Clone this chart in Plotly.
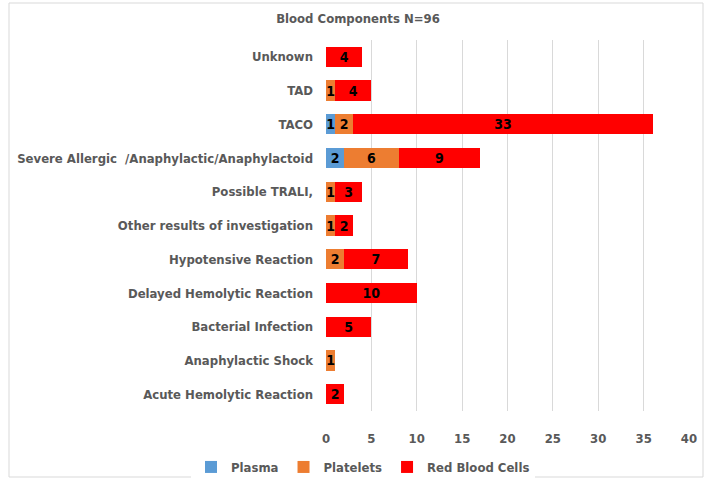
import plotly.graph_objects as go

categories = ["Acute Hemolytic Reaction", "Anaphylactic Shock", "Bacterial Infection",
              "Delayed Hemolytic Reaction", "Hypotensive Reaction",
              "Other results of investigation", "Possible TRALI,",
              "Severe Allergic  /Anaphylactic/Anaphylactoid", "TACO", "TAD", "Unknown"]
plasma = [None, None, None, None, None, None, None, 2, 1, None, None]
platelets = [None, 1, None, None, 2, 1, 1, 6, 2, 1, None]
rbc = [2, None, 5, 10, 7, 2, 3, 9, 33, 4, 4]
x_ticks = [0, 5, 10, 15, 20, 25, 30, 35, 40]

FONT = "DejaVu Sans Condensed, Roboto, sans-serif"
series = [("Plasma", plasma, "#5B9BD5"), ("Platelets", platelets, "#ED7D31"),
          ("Red Blood Cells", rbc, "#FF0000")]

fig = go.Figure()
for name, vals, col in series:
    fig.add_trace(go.Bar(
        y=categories, x=vals, name=name, orientation="h",
        marker=dict(color=col, line=dict(width=0)),
        text=[str(v) if v else "" for v in vals],
        textposition="inside", insidetextanchor="middle", constraintext="none",
        textangle=0,
        textfont=dict(family=FONT, size=14, color="black", weight="bold"),
        hoverinfo="x+y+name",
    ))

L, R, T, B = 326, 18, 40, 68
W, H = 707, 479
pw, ph = W - L - R, H - T - B

def px(x):
    return (x - L) / pw

def py(y):
    return (H - B - y) / ph

fig.update_layout(
    barmode="stack", bargap=0.4,
    width=W, height=H,
    margin=dict(l=L, r=R, t=T, b=B, autoexpand=False),
    paper_bgcolor="white", plot_bgcolor="white",
    font=dict(family=FONT, color="#595959", size=13),
    title=dict(text="<b>Blood Components N=96</b>", x=358 / W, xanchor="center",
               xref="container", y=1 - 18 / H, yanchor="middle",
               font=dict(size=13, color="#595959", family=FONT)),
    xaxis=dict(range=[0, 40], tickvals=x_ticks, showgrid=True, gridcolor="#D9D9D9",
               gridwidth=1, zeroline=False, showline=False, ticks="", automargin=False,
               tickfont=dict(size=13, color="#595959", weight="bold"), ticklabelstandoff=18),
    yaxis=dict(categoryorder="array", categoryarray=categories, showgrid=False,
               showline=False, ticks="", ticklabelstandoff=12, automargin=False,
               tickfont=dict(size=13, color="#595959", weight="bold")),
    legend=dict(orientation="h", x=px(363), xanchor="center", y=py(467), yanchor="middle",
                font=dict(size=13, color="#595959", weight="bold"), itemwidth=30,
                traceorder="normal"),
    shapes=[dict(type="rect", xref="paper", yref="paper", x0=px(9), x1=px(703),
                 y0=py(477), y1=py(3), line=dict(color="#D9D9D9", width=1), layer="below")],
)
fig.write_html("out.html", post_script="document.body.style.margin='0';",
               config={"displayModeBar": False})
